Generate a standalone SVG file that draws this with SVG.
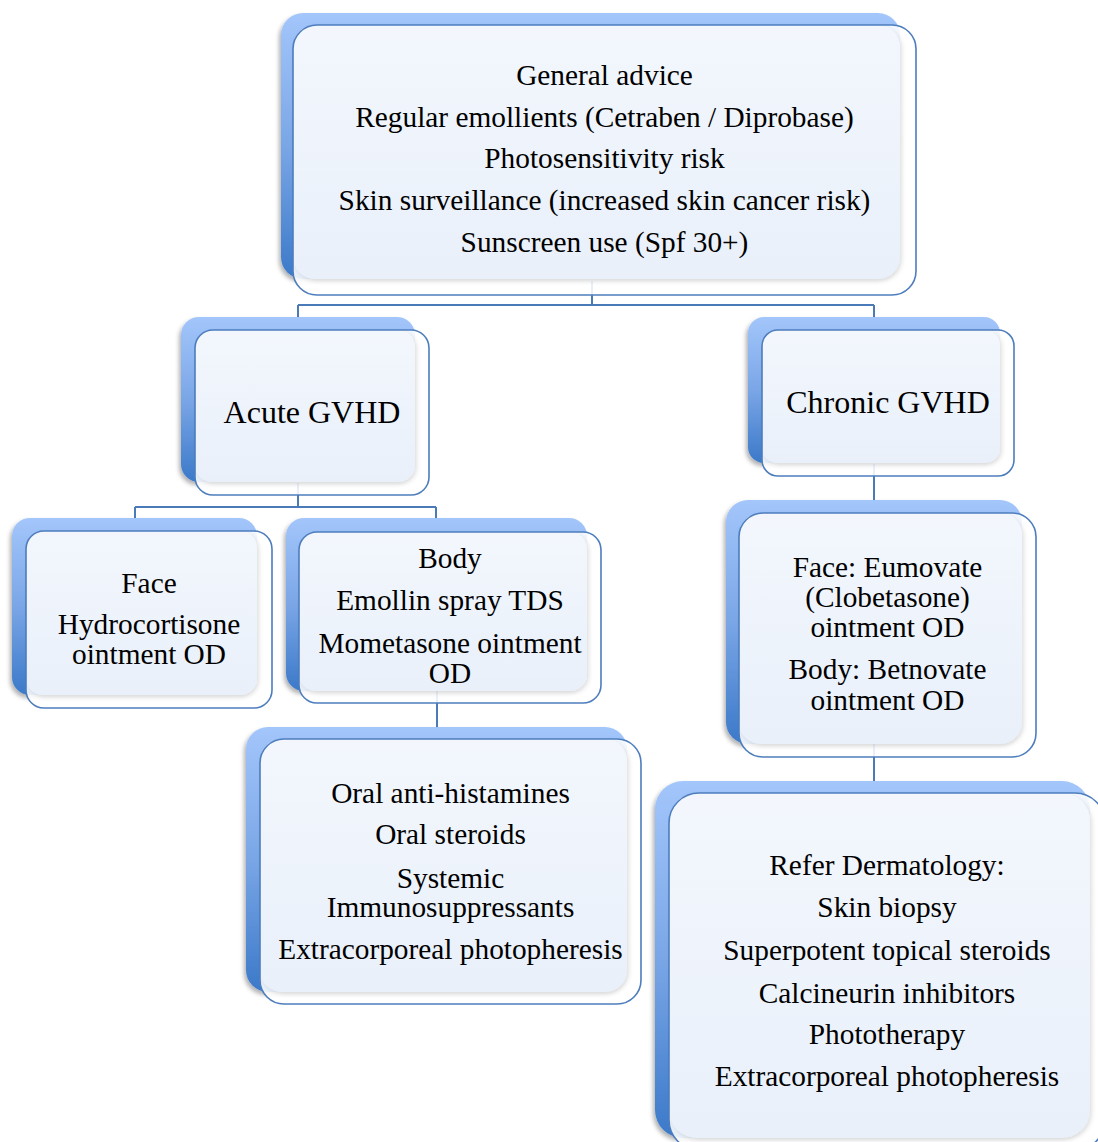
<svg xmlns="http://www.w3.org/2000/svg" width="1098" height="1142" viewBox="0 0 1098 1142">
<defs>
<linearGradient id="gBack" x1="0" y1="0" x2="0" y2="1">
<stop offset="0" stop-color="#a3c6fb"/>
<stop offset="0.5" stop-color="#7aa6e6"/>
<stop offset="1" stop-color="#3b79c9"/>
</linearGradient>
<linearGradient id="gFill" x1="0" y1="0" x2="0" y2="1">
<stop offset="0" stop-color="#f3f7fd"/>
<stop offset="1" stop-color="#e9f0fa"/>
</linearGradient>
<filter id="shBack" x="-10%" y="-10%" width="120%" height="120%">
<feDropShadow dx="-2" dy="3" stdDeviation="2" flood-color="#000" flood-opacity="0.3"/>
</filter>
<filter id="shFill" x="-10%" y="-10%" width="120%" height="120%">
<feDropShadow dx="2" dy="2" stdDeviation="2" flood-color="#000" flood-opacity="0.12"/>
</filter>
</defs>
<style>
.back{fill:url(#gBack);filter:url(#shBack)}
.front{fill:#ffffff;fill-opacity:0.88}
.fill{fill:url(#gFill);filter:url(#shFill)}
.border{fill:none;stroke:#4d7dbd;stroke-width:1.6}
.conn{fill:none;stroke:#4a7ab8;stroke-width:2}
text{font-family:"Liberation Serif","Times New Roman",serif;font-size:29.33px;fill:#000;text-anchor:middle}
.big{font-size:32px}
</style>
<rect width="1098" height="1142" fill="#ffffff"/>

<g id="connectors">
<path class="conn" d="M592 281 V305 M298 305 H874 M298 305 V318 M874 305 V318"/>
<path class="conn" d="M298 483 V507 M135 507 H436 M135 507 V518 M436 507 V518"/>
<path class="conn" d="M437 691 V727"/>
<path class="conn" d="M874 464 V500"/>
<path class="conn" d="M874 744 V781"/>
</g>

<g id="node-general">
<rect class="back" x="281" y="13" width="619" height="266" rx="22"/>
<rect class="front" x="293" y="25" width="623" height="270" rx="24"/>
<rect class="fill" x="293" y="25" width="607" height="254" rx="22"/>
<rect class="border" x="293" y="25" width="623" height="270" rx="24"/>
<text x="604.5" y="85">General advice</text>
<text x="604.5" y="127">Regular emollients (Cetraben / Diprobase)</text>
<text x="604.5" y="168">Photosensitivity risk</text>
<text x="604.5" y="210">Skin surveillance (increased skin cancer risk)</text>
<text x="604.5" y="252">Sunscreen use (Spf 30+)</text>
</g>

<g id="node-acute">
<rect class="back" x="181" y="317" width="234" height="165" rx="18"/>
<rect class="front" x="195" y="330" width="234" height="165" rx="18"/>
<rect class="fill" x="195" y="330" width="220" height="152" rx="17"/>
<rect class="border" x="195" y="330" width="234" height="165" rx="18"/>
<text class="big" x="312" y="423">Acute GVHD</text>
</g>

<g id="node-chronic">
<rect class="back" x="748" y="317" width="252" height="146" rx="16"/>
<rect class="front" x="762" y="330" width="252" height="146" rx="16"/>
<rect class="fill" x="762" y="330" width="238" height="133" rx="15"/>
<rect class="border" x="762" y="330" width="252" height="146" rx="16"/>
<text class="big" x="888" y="413">Chronic GVHD</text>
</g>

<g id="node-face">
<rect class="back" x="12" y="518" width="245" height="177" rx="18"/>
<rect class="front" x="26" y="531" width="246" height="177" rx="18"/>
<rect class="fill" x="26" y="531" width="231" height="164" rx="17"/>
<rect class="border" x="26" y="531" width="246" height="177" rx="18"/>
<text x="149" y="593">Face</text>
<text x="149" y="634">Hydrocortisone</text>
<text x="149" y="664">ointment OD</text>
</g>

<g id="node-body">
<rect class="back" x="286" y="518" width="301" height="173" rx="18"/>
<rect class="front" x="299" y="532" width="302" height="171" rx="18"/>
<rect class="fill" x="299" y="532" width="288" height="159" rx="17"/>
<rect class="border" x="299" y="532" width="302" height="171" rx="18"/>
<text x="450" y="568">Body</text>
<text x="450" y="610">Emollin spray TDS</text>
<text x="450" y="653">Mometasone ointment</text>
<text x="450" y="683">OD</text>
</g>

<g id="node-systemic">
<rect class="back" x="246" y="727" width="381" height="265" rx="22"/>
<rect class="front" x="260" y="739" width="381" height="265" rx="24"/>
<rect class="fill" x="260" y="739" width="367" height="253" rx="22"/>
<rect class="border" x="260" y="739" width="381" height="265" rx="24"/>
<text x="450.5" y="803">Oral anti-histamines</text>
<text x="450.5" y="844">Oral steroids</text>
<text x="450.5" y="888">Systemic</text>
<text x="450.5" y="917">Immunosuppressants</text>
<text x="450.5" y="959">Extracorporeal photopheresis</text>
</g>

<g id="node-chronic-topical">
<rect class="back" x="726" y="500" width="296" height="244" rx="22"/>
<rect class="front" x="739" y="513" width="297" height="244" rx="24"/>
<rect class="fill" x="739" y="513" width="283" height="231" rx="22"/>
<rect class="border" x="739" y="513" width="297" height="244" rx="24"/>
<text x="887.5" y="577">Face: Eumovate</text>
<text x="887.5" y="607">(Clobetasone)</text>
<text x="887.5" y="637">ointment OD</text>
<text x="887.5" y="679">Body: Betnovate</text>
<text x="887.5" y="710">ointment OD</text>
</g>

<g id="node-dermatology">
<rect class="back" x="655" y="781" width="435" height="357" rx="28"/>
<rect class="front" x="669" y="793" width="436" height="357" rx="30"/>
<rect class="fill" x="669" y="793" width="421" height="345" rx="28"/>
<rect class="border" x="669" y="793" width="436" height="357" rx="30"/>
<text x="887" y="875">Refer Dermatology:</text>
<text x="887" y="917">Skin biopsy</text>
<text x="887" y="960">Superpotent topical steroids</text>
<text x="887" y="1003">Calcineurin inhibitors</text>
<text x="887" y="1044">Phototherapy</text>
<text x="887" y="1086">Extracorporeal photopheresis</text>
</g>
</svg>
